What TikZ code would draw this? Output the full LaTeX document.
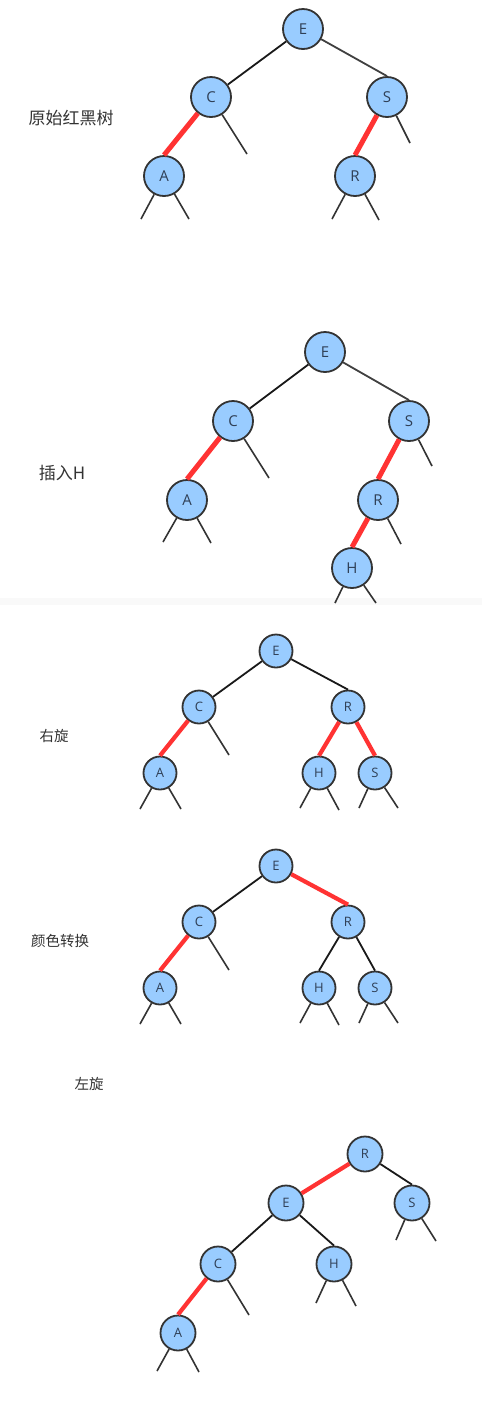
\documentclass[tikz,border=0pt]{standalone}
\usepackage{fontspec}
\setmainfont{Open Sans}
\newfontfamily\cjk{Noto Sans CJK SC}
\definecolor{nodefill}{HTML}{99CCFF}
\definecolor{nodeedge}{HTML}{333333}
\definecolor{lettercol}{HTML}{2F3F55}
\definecolor{redlink}{HTML}{FF3333}
\definecolor{labelcol}{HTML}{333333}
\tikzset{
  rbnode/.style={circle, draw=nodeedge, fill=nodefill, line width=1.8pt, inner sep=0pt, text=lettercol},
  bignode/.style={rbnode, minimum size=40pt, font=\fontsize{15}{15}\selectfont},
  midnode/.style={rbnode, minimum size=35pt, font=\fontsize{13}{13}\selectfont},
  smallnode/.style={rbnode, minimum size=33pt, font=\fontsize{13}{13}\selectfont},
  blacklink/.style={draw=black!90, line width=1.8pt},
  greylink/.style={draw=black!75, line width=1.8pt},
  rededge/.style={draw=redlink, line width=5pt},
  rededgesmall/.style={draw=redlink, line width=4.2pt},
  stub/.style={draw=black!80, line width=1.6pt},
  steplabel/.style={text=labelcol, font=\cjk\fontsize{17}{17}\selectfont},
  steplabelsmall/.style={text=labelcol, font=\cjk\fontsize{14.5}{14.5}\selectfont}
}
\begin{document}
\begin{tikzpicture}[x=1pt,y=-1pt]
\useasboundingbox (0,0) rectangle (482,1409);
\fill[white] (0,0) rectangle (482,1409);
\fill[black!2.5] (0,598) rectangle (482,605);

% ---------- Panel 1 ----------
\node[steplabel] (l1) at (71,118) {原始红黑树};
\node[bignode] (p1E) at (303,29) {E};
\node[bignode] (p1C) at (211,97) {C};
\node[bignode] (p1S) at (387,97) {S};
\node[bignode] (p1A) at (164,176) {A};
\node[bignode] (p1R) at (355,176) {R};
\draw[blacklink] (p1E) -- (p1C);
\draw[greylink] (p1E) -- (p1S.north);
\draw[rededge] (p1C) -- (p1A.north);
\draw[rededge] (p1S) -- (p1R.north);
\coordinate (p1c1) at (247,154);
\coordinate (p1s1) at (410,143);
\coordinate (p1a1) at (141,219);
\coordinate (p1a2) at (189,219);
\coordinate (p1r1) at (332,219);
\coordinate (p1r2) at (379,220);
\draw[stub] (p1C) -- (p1c1);
\draw[stub] (p1S) -- (p1s1);
\draw[stub] (p1A) -- (p1a1);
\draw[stub] (p1A) -- (p1a2);
\draw[stub] (p1R) -- (p1r1);
\draw[stub] (p1R) -- (p1r2);

% ---------- Panel 2 ----------
\node[steplabel] (l2) at (62,473) {插入H};
\node[bignode] (p2E) at (325,352) {E};
\node[bignode] (p2C) at (233,421) {C};
\node[bignode] (p2S) at (409,421) {S};
\node[bignode] (p2A) at (187,500) {A};
\node[bignode] (p2R) at (378,500) {R};
\node[bignode] (p2H) at (352,568) {H};
\draw[blacklink] (p2E) -- (p2C);
\draw[greylink] (p2E) -- (p2S.north);
\draw[rededge] (p2C) -- (p2A.north);
\draw[rededge] (p2S) -- (p2R.north);
\draw[rededge] (p2R) -- (p2H.north);
\coordinate (p2c1) at (269,478);
\coordinate (p2s1) at (432,466);
\coordinate (p2a1) at (163,542);
\coordinate (p2a2) at (211,543);
\coordinate (p2r1) at (401,544);
\coordinate (p2h1) at (335,603);
\coordinate (p2h2) at (376,603);
\draw[stub] (p2C) -- (p2c1);
\draw[stub] (p2S) -- (p2s1);
\draw[stub] (p2A) -- (p2a1);
\draw[stub] (p2A) -- (p2a2);
\draw[stub] (p2R) -- (p2r1);
\draw[stub] (p2H) -- (p2h1);
\draw[stub] (p2H) -- (p2h2);

% ---------- Panel 3 ----------
\node[steplabelsmall] (l3) at (54,736) {右旋};
\node[smallnode] (p3E) at (276,651) {E};
\node[smallnode] (p3C) at (199,707) {C};
\node[smallnode] (p3R) at (348,707) {R};
\node[smallnode] (p3A) at (160,773) {A};
\node[smallnode] (p3H) at (319,773) {H};
\node[smallnode] (p3S) at (375,773) {S};
\draw[blacklink] (p3E) -- (p3C);
\draw[blacklink] (p3E) -- (p3R.north);
\draw[rededgesmall] (p3C) -- (p3A.north);
\draw[rededgesmall] (p3R) -- (p3H.north);
\draw[rededgesmall] (p3R) -- (p3S.north);
\coordinate (p3c1) at (229,755);
\coordinate (p3a1) at (140,809);
\coordinate (p3a2) at (181,809);
\coordinate (p3h1) at (300,808);
\coordinate (p3h2) at (339,810);
\coordinate (p3s1) at (359,808);
\coordinate (p3s2) at (398,808);
\draw[stub] (p3C) -- (p3c1);
\draw[stub] (p3A) -- (p3a1);
\draw[stub] (p3A) -- (p3a2);
\draw[stub] (p3H) -- (p3h1);
\draw[stub] (p3H) -- (p3h2);
\draw[stub] (p3S) -- (p3s1);
\draw[stub] (p3S) -- (p3s2);

% ---------- Panel 4 ----------
\node[steplabelsmall] (l4) at (60,941) {颜色转换};
\node[smallnode] (p4E) at (276,866) {E};
\node[smallnode] (p4C) at (199,922) {C};
\node[smallnode] (p4R) at (348,922) {R};
\node[smallnode] (p4A) at (160,988) {A};
\node[smallnode] (p4H) at (319,988) {H};
\node[smallnode] (p4S) at (375,988) {S};
\draw[blacklink] (p4E) -- (p4C);
\draw[rededgesmall] (p4E) -- (p4R.north);
\draw[rededgesmall] (p4C) -- (p4A.north);
\draw[blacklink] (p4R) -- (p4H.north);
\draw[blacklink] (p4R) -- (p4S.north);
\coordinate (p4c1) at (229,970);
\coordinate (p4a1) at (140,1024);
\coordinate (p4a2) at (181,1024);
\coordinate (p4h1) at (300,1023);
\coordinate (p4h2) at (339,1025);
\coordinate (p4s1) at (359,1023);
\coordinate (p4s2) at (398,1023);
\draw[stub] (p4C) -- (p4c1);
\draw[stub] (p4A) -- (p4a1);
\draw[stub] (p4A) -- (p4a2);
\draw[stub] (p4H) -- (p4h1);
\draw[stub] (p4H) -- (p4h2);
\draw[stub] (p4S) -- (p4s1);
\draw[stub] (p4S) -- (p4s2);

% ---------- Panel 5 ----------
\node[steplabelsmall] (l5) at (89,1084) {左旋};
\node[midnode] (p5R) at (365,1154) {R};
\node[midnode] (p5E) at (286,1203) {E};
\node[midnode] (p5S) at (412,1203) {S};
\node[midnode] (p5C) at (218,1264) {C};
\node[midnode] (p5H) at (334,1264) {H};
\node[midnode] (p5A) at (178,1333) {A};
\draw[rededgesmall] (p5R) -- (p5E);
\draw[blacklink] (p5R) -- (p5S.north);
\draw[blacklink] (p5E) -- (p5C);
\draw[blacklink] (p5E) -- (p5H.north);
\draw[rededgesmall] (p5C) -- (p5A.north);
\coordinate (p5s1) at (396,1240);
\coordinate (p5s2) at (436,1241);
\coordinate (p5c1) at (249,1315);
\coordinate (p5h1) at (316,1303);
\coordinate (p5h2) at (356,1306);
\coordinate (p5a1) at (157,1371);
\coordinate (p5a2) at (199,1372);
\draw[stub] (p5S) -- (p5s1);
\draw[stub] (p5S) -- (p5s2);
\draw[stub] (p5C) -- (p5c1);
\draw[stub] (p5H) -- (p5h1);
\draw[stub] (p5H) -- (p5h2);
\draw[stub] (p5A) -- (p5a1);
\draw[stub] (p5A) -- (p5a2);
\end{tikzpicture}
\end{document}
